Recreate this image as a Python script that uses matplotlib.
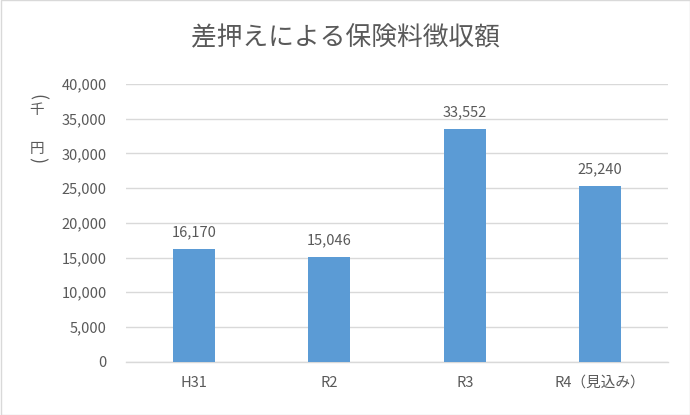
import matplotlib.pyplot as plt
from matplotlib.patches import Rectangle

plt.rcParams['font.family'] = ['Noto Sans CJK JP', 'DejaVu Sans']

# 差押えによる保険料徴収額（千円）
years = ['H31', 'R2', 'R3', 'R4（見込み）']
amounts = [16170, 15046, 33552, 25240]
y_ticks = [0, 5000, 10000, 15000, 20000, 25000, 30000, 35000, 40000]

text_color = '#595959'
grid_color = '#D9D9D9'
bar_color = '#5B9BD5'

fig = plt.figure(figsize=(6.9, 4.15), dpi=100)
ax = fig.add_axes([126 / 690, 53.3 / 415, 542 / 690, 277.7 / 415])

x = range(len(years))
bars = ax.bar(x, amounts, width=0.31, color=bar_color, zorder=3)

for rect, v in zip(bars, amounts):
    ax.annotate(f'{v:,}', (rect.get_x() + rect.get_width() / 2, v),
                xytext=(0, 7), textcoords='offset points',
                ha='center', va='bottom', fontsize=10.5, color=text_color)

ax.set_xlim(-0.5, len(years) - 0.5)
ax.set_ylim(0, 40000)
ax.set_yticks(y_ticks)
ax.set_yticklabels([f'{t:,}' for t in y_ticks])
ax.set_xticks(list(x))
ax.set_xticklabels(years)
ax.tick_params(axis='both', length=0, labelsize=10.5, labelcolor=text_color)
ax.tick_params(axis='y', pad=14)
ax.tick_params(axis='x', pad=10)
ax.grid(axis='y', color=grid_color, linewidth=1, zorder=0)
for s in ['top', 'right', 'left']:
    ax.spines[s].set_visible(False)
ax.spines['bottom'].set_color(grid_color)
ax.spines['bottom'].set_linewidth(1)

# 縦書きの単位ラベル（括弧は回転させて描く）
unit_chars = [('(', 97.5, -90, 13), ('千', 110, 0, 10.5),
              ('円', 149.5, 0, 10.5), (')', 160.5, -90, 13)]
for ch, py, rot, size in unit_chars:
    fig.text(37 / 690, 1 - py / 415, ch, ha='center', va='center',
             rotation=rot, fontsize=size, color=text_color)

fig.text(0.5, 1 - 38 / 415, '差押えによる保険料徴収額', ha='center', va='center',
         fontsize=18.5, color=text_color)

# 外枠
fig.patches.append(Rectangle((0.5 / 690, 0.5 / 415), 689 / 690, 414 / 415,
                             transform=fig.transFigure, fill=False,
                             edgecolor='#D9D9D9', linewidth=1))

fig.savefig('out.png', dpi=100)
